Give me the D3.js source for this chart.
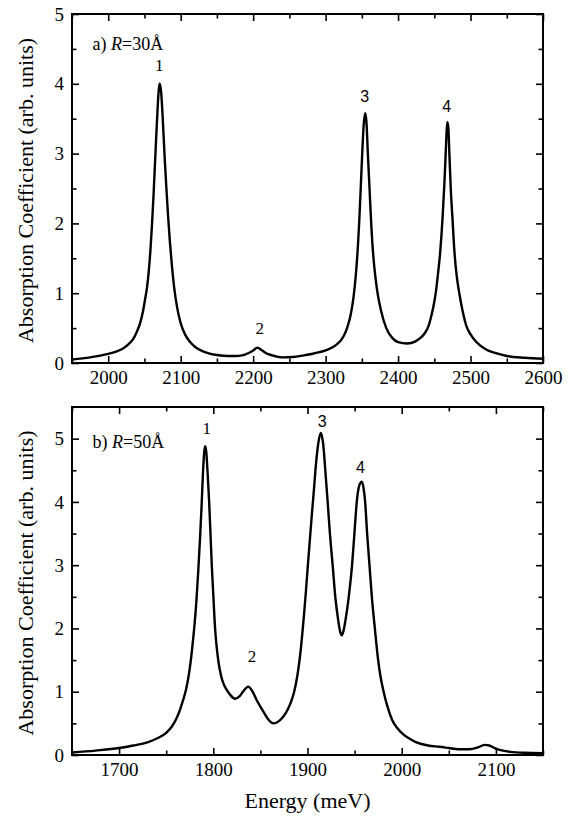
<!DOCTYPE html>
<html>
<head>
<meta charset="utf-8">
<script src="https://cdn.jsdelivr.net/npm/d3@7"></script>
<style>
    body { margin: 0; background: #fff; }
</style>
</head>
<body>
<div id="chart"></div>
<script>

// ---- panel a) R=30A : values (meV, arb. units)
let energyA = [1950, 1975, 2000, 2010, 2021, 2031, 2036, 2040, 2044, 2048, 2051, 2053.5, 2056, 2058.5,
    2060.5, 2062.5, 2064.5, 2066.5, 2068.5, 2070, 2071, 2073, 2075, 2077.5, 2080, 2082.5, 2085, 2088,
    2091, 2095, 2100, 2106, 2113, 2120, 2130, 2140, 2150, 2165, 2175, 2185, 2193, 2200, 2206, 2211, 2218,
    2226, 2240, 2255, 2270, 2285, 2300, 2314.6, 2324.6, 2329.6, 2334.6, 2338.6, 2341.6, 2344.6, 2346.6,
    2348.6, 2350.6, 2352.6, 2354.6, 2356.3, 2358.3, 2360.6, 2362.9, 2364.3, 2366.1, 2368.6, 2371.7,
    2376.5, 2383.7, 2392, 2400, 2412.5, 2424, 2432, 2437, 2441.7, 2446, 2449.5, 2452.3, 2455, 2457.8,
    2459.8, 2461.5, 2463.8, 2465.7, 2467, 2468, 2469.3, 2470.8, 2472.7, 2475.5, 2476.8, 2478.5, 2481,
    2484.5, 2489, 2494.6, 2500, 2508, 2522, 2535, 2550, 2575, 2600];
let absorbA = [0.05, 0.08, 0.13, 0.16, 0.21, 0.30, 0.37, 0.46, 0.57, 0.74, 0.92, 1.08, 1.32, 1.66,
    2.00, 2.40, 2.85, 3.30, 3.72, 3.94, 4.00, 3.88, 3.55, 3.02, 2.55, 2.12, 1.75, 1.38,
    1.08, 0.80, 0.57, 0.41, 0.30, 0.23, 0.17, 0.135, 0.115, 0.10, 0.10, 0.11, 0.14, 0.18, 0.22, 0.19, 0.14,
    0.11, 0.08, 0.085, 0.11, 0.14, 0.18, 0.26, 0.38, 0.50, 0.69, 0.95, 1.25, 1.68, 2.07,
    2.54, 3.02, 3.42, 3.58, 3.46, 3.00, 2.50, 2.00, 1.75, 1.50, 1.24, 1.00,
    0.75, 0.50, 0.36, 0.30, 0.28, 0.31, 0.37, 0.43, 0.52, 0.68, 0.85, 1.03, 1.27, 1.55,
    1.82, 2.10, 2.55, 3.00, 3.32, 3.45, 3.38, 3.00, 2.50, 2.00, 1.75, 1.50, 1.24,
    1.00, 0.75, 0.52, 0.41, 0.30, 0.19, 0.14, 0.10, 0.075, 0.06];

// ---- panel b) R=50A
let energyB = [1650, 1675, 1700, 1715, 1730, 1740, 1750, 1756, 1761, 1765, 1768, 1771, 1773.5, 1776,
    1778, 1780, 1782, 1784, 1786, 1787.6, 1789, 1790.3, 1791.4, 1792.6, 1793.8, 1795.6, 1797, 1798.4,
    1800.1, 1801.9, 1803.5, 1805.5, 1808, 1811, 1814.6, 1818, 1823, 1828, 1832, 1837, 1841, 1846, 1853,
    1858, 1864, 1870, 1875, 1879, 1882.5, 1885.5, 1888, 1890.5, 1892.5, 1894.5, 1896.5, 1898.5, 1900.5,
    1902.5, 1904.5, 1906.6, 1909, 1911.7, 1914.2, 1916.6, 1918.9, 1921.4, 1923.8, 1926.7, 1929.5, 1932.7,
    1934.5, 1936.3, 1938.2, 1940.2, 1943.8, 1947.3, 1949.8, 1952.3, 1955, 1957.7, 1959.5, 1961.2, 1963.3,
    1965.8, 1968.3, 1971.5, 1975, 1977.5, 1980.8, 1985, 1990, 1995, 2001.4, 2008, 2015.7, 2028, 2040,
    2050, 2060, 2072, 2081, 2088, 2093, 2100, 2115, 2130, 2150];
let absorbB = [0.04, 0.07, 0.11, 0.15, 0.20, 0.26, 0.35, 0.45, 0.58, 0.73, 0.87, 1.03, 1.22, 1.48,
    1.75, 2.05, 2.42, 2.90, 3.45, 3.95, 4.45, 4.78, 4.88, 4.78, 4.50, 4.00, 3.50, 3.00,
    2.50, 2.00, 1.72, 1.47, 1.27, 1.12, 1.02, 0.95, 0.89, 0.93, 1.01, 1.08, 1.02, 0.87, 0.69,
    0.57, 0.50, 0.54, 0.62, 0.72, 0.84, 0.98, 1.15, 1.38, 1.62, 1.92, 2.25, 2.62, 3.02,
    3.40, 3.78, 4.15, 4.60, 4.95, 5.09, 4.92, 4.50, 4.00, 3.50, 3.00, 2.50, 2.12,
    1.96, 1.89, 1.96, 2.12, 2.50, 3.00, 3.50, 4.00, 4.26, 4.32, 4.22, 4.00, 3.50,
    3.00, 2.50, 2.00, 1.50, 1.24, 1.00, 0.76, 0.55, 0.43, 0.33, 0.26, 0.20, 0.15, 0.13,
    0.11, 0.09, 0.09, 0.12, 0.16, 0.15, 0.10, 0.05, 0.035, 0.03];

// ---- ticks
let xMajorA = [2000, 2100, 2200, 2300, 2400, 2500, 2600];
let xMinorA = [1950, 2050, 2150, 2250, 2350, 2450, 2550];
let yMajorA = [0, 1, 2, 3, 4, 5];
let yMinorA = [0.5, 1.5, 2.5, 3.5, 4.5];

let xMajorB = [1700, 1800, 1900, 2000, 2100];
let xMinorB = [1650, 1750, 1850, 1950, 2050, 2150];
let yMajorB = [0, 1, 2, 3, 4, 5];
let yMinorB = [0.5, 1.5, 2.5, 3.5, 4.5];

// ---- peak numbers (anchored in data units)
let peakNamesA = ["1", "2", "3", "4"];
let peakXA = [2070.5, 2209, 2354, 2467];
let peakYA = [4.18, 0.415, 3.74, 3.6];

let peakNamesB = ["1", "2", "3", "4"];
let peakXB = [1793, 1841, 1915.6, 1956.3];
let peakYB = [5.08, 1.47, 5.19, 4.45];

const SERIF = '"Liberation Serif", serif';
const SANS = '"Liberation Sans", sans-serif';

let width = 574, height = 816;
let left = 72, right = 543;

let svg = d3.select("#chart").append("svg")
    .attr("width", width)
    .attr("height", height);

svg.append("rect").attr("width", width).attr("height", height).attr("fill", "#fff");

function drawPanel(cfg) {
    let x = d3.scaleLinear().domain(cfg.xDomain).range([left, right]);
    let y = d3.scaleLinear().domain(cfg.yDomain).range([cfg.bottom, cfg.top]);

    let g = svg.append("g");

    // inward ticks on all four sides
    let axes = [
        {ax: d3.axisBottom(x), tr: `translate(0,${cfg.bottom})`, major: cfg.xMajor, minor: cfg.xMinor, lab: true},
        {ax: d3.axisTop(x), tr: `translate(0,${cfg.top})`, major: cfg.xMajor, minor: cfg.xMinor, lab: false},
        {ax: d3.axisLeft(y), tr: `translate(${left},0)`, major: cfg.yMajor, minor: cfg.yMinor, lab: true},
        {ax: d3.axisRight(y), tr: `translate(${right},0)`, major: cfg.yMajor, minor: cfg.yMinor, lab: false}
    ];

    axes.forEach(a => {
        let maj = g.append("g").attr("transform", a.tr)
            .call(a.ax.tickValues(a.major).tickSize(-7).tickPadding(a.lab ? 8 : 0)
                .tickFormat(a.lab ? d3.format("d") : ""));
        maj.attr("font-family", SERIF).attr("font-size", 19);
        maj.select(".domain").remove();
        maj.selectAll("line").attr("stroke", "#000").attr("stroke-width", 1.6);
        maj.selectAll("text").style("font-family", SERIF).style("font-size", "19px").attr("fill", "#000");

        let min = g.append("g").attr("transform", a.tr)
            .call(a.ax.tickValues(a.minor).tickSize(-4.5).tickFormat(""));
        min.select(".domain").remove();
        min.selectAll("line").attr("stroke", "#000").attr("stroke-width", 1.6);
    });

    g.append("rect")
        .attr("x", left).attr("y", cfg.top)
        .attr("width", right - left).attr("height", cfg.bottom - cfg.top)
        .attr("fill", "none").attr("stroke", "#000").attr("stroke-width", 2);

    let clipId = "clip" + cfg.id;
    svg.append("clipPath").attr("id", clipId).append("rect")
        .attr("x", left).attr("y", cfg.top)
        .attr("width", right - left).attr("height", cfg.bottom - cfg.top);

    let pts = cfg.energy.map((e, i) => [e, cfg.absorb[i]]);
    let line = d3.line()
        .x(d => x(d[0]))
        .y(d => y(d[1]))
        .curve(d3.curveMonotoneX);

    g.append("path")
        .datum(pts)
        .attr("clip-path", `url(#${clipId})`)
        .attr("d", line)
        .attr("fill", "none")
        .attr("stroke", "#000")
        .attr("stroke-width", 2.4)
        .attr("stroke-linejoin", "round");

    // peak numbers (3 and 4 are set in a sans face in the original)
    cfg.peakNames.forEach((p, i) => {
        g.append("text")
            .attr("x", x(cfg.peakX[i]))
            .attr("y", y(cfg.peakY[i]))
            .attr("text-anchor", "middle")
            .style("font-family", i >= 2 ? SANS : SERIF)
            .style("font-size", i >= 2 ? "16px" : "17px")
            .text(p);
    });

    // panel tag
    let tag = g.append("text")
        .attr("x", 92.5)
        .attr("y", cfg.tagY)
        .style("font-family", SERIF)
        .style("font-size", "18px");
    tag.append("tspan").text(cfg.tag[0] + " ");
    tag.append("tspan").style("font-style", "italic").text("R");
    tag.append("tspan").text(cfg.tag[1]);

    // y title
    g.append("text")
        .attr("transform", `translate(33,${(cfg.top + cfg.bottom) / 2 + 2}) rotate(-90)`)
        .attr("text-anchor", "middle")
        .style("font-family", SERIF)
        .style("font-size", "22px")
        .text("Absorption Coefficient (arb. units)");
}

drawPanel({
    id: "a", top: 14, bottom: 363,
    xDomain: [1950, 2600], yDomain: [0, 5],
    energy: energyA, absorb: absorbA,
    xMajor: xMajorA, xMinor: xMinorA, yMajor: yMajorA, yMinor: yMinorA,
    peakNames: peakNamesA, peakX: peakXA, peakY: peakYA,
    tag: ["a)", "=30Å"], tagY: 50
});

drawPanel({
    id: "b", top: 407, bottom: 755,
    xDomain: [1650, 2150], yDomain: [0, 5.5],
    energy: energyB, absorb: absorbB,
    xMajor: xMajorB, xMinor: xMinorB, yMajor: yMajorB, yMinor: yMinorB,
    peakNames: peakNamesB, peakX: peakXB, peakY: peakYB,
    tag: ["b)", "=50Å"], tagY: 448
});

svg.append("text")
    .attr("x", (left + right) / 2)
    .attr("y", 808)
    .attr("text-anchor", "middle")
    .style("font-family", SERIF)
    .style("font-size", "22px")
    .text("Energy (meV)");

</script>
</body>
</html>
